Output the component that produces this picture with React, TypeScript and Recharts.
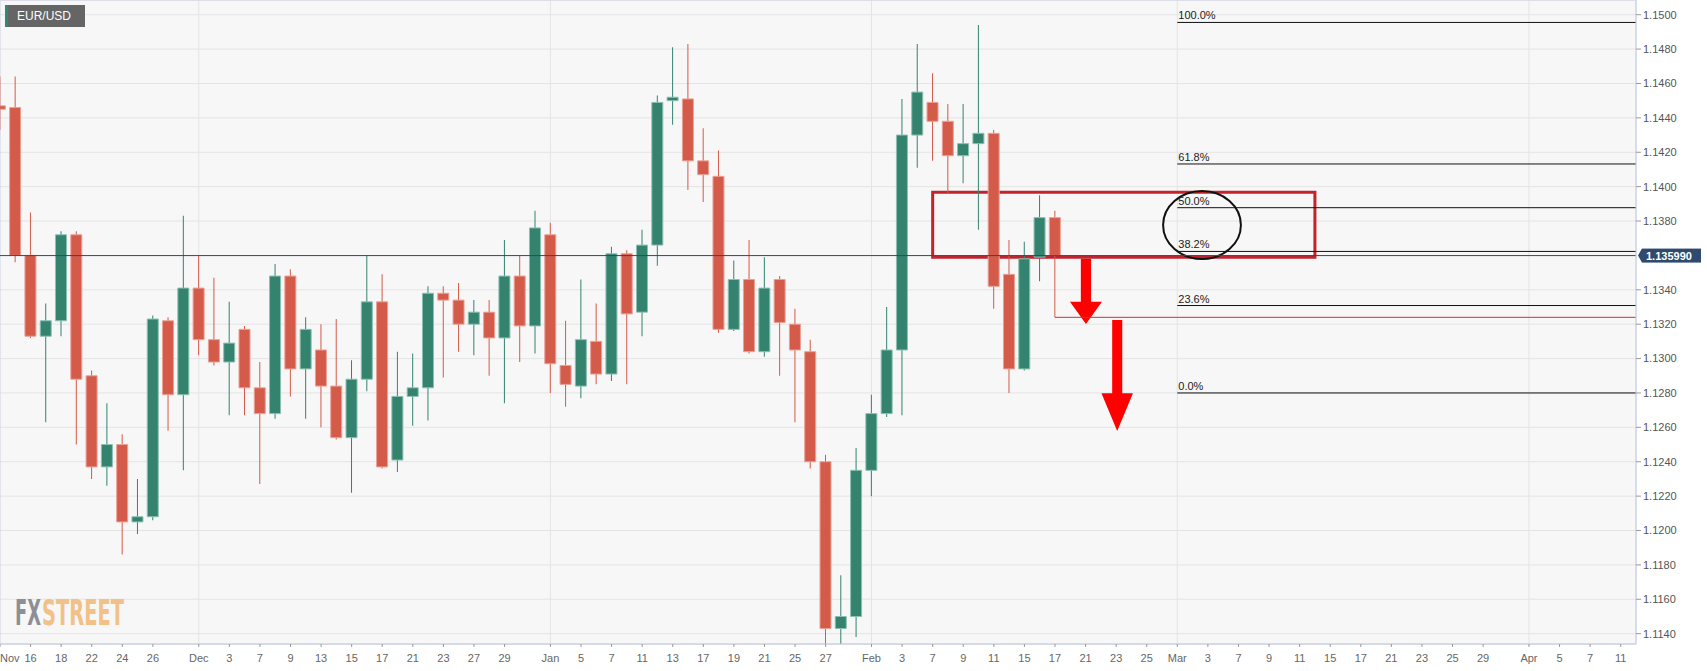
import React from 'react'
import {
  ComposedChart,
  Bar,
  Cell,
  XAxis,
  YAxis,
  CartesianGrid,
  ReferenceLine,
  ReferenceArea,
} from 'recharts'

// daily candles, Nov 12 2021 .. Feb 17 2022 (weekdays)
const DAYS = [
  'Nov 12', 'Nov 15', 'Nov 16', 'Nov 17', 'Nov 18', 'Nov 19',
  'Nov 22', 'Nov 23', 'Nov 24', 'Nov 25', 'Nov 26',
  'Nov 29', 'Nov 30', 'Dec 1', 'Dec 2', 'Dec 3',
  'Dec 6', 'Dec 7', 'Dec 8', 'Dec 9', 'Dec 10',
  'Dec 13', 'Dec 14', 'Dec 15', 'Dec 16', 'Dec 17',
  'Dec 20', 'Dec 21', 'Dec 22', 'Dec 23', 'Dec 24',
  'Dec 27', 'Dec 28', 'Dec 29', 'Dec 30', 'Dec 31',
  'Jan 3', 'Jan 4', 'Jan 5', 'Jan 6', 'Jan 7',
  'Jan 10', 'Jan 11', 'Jan 12', 'Jan 13', 'Jan 14',
  'Jan 17', 'Jan 18', 'Jan 19', 'Jan 20', 'Jan 21',
  'Jan 24', 'Jan 25', 'Jan 26', 'Jan 27', 'Jan 28',
  'Jan 31', 'Feb 1', 'Feb 2', 'Feb 3', 'Feb 4',
  'Feb 7', 'Feb 8', 'Feb 9', 'Feb 10', 'Feb 11',
  'Feb 14', 'Feb 15', 'Feb 16', 'Feb 17',
]

const OPEN = [
  1.1447, 1.1446, 1.1360, 1.1313, 1.1322, 1.1372,
  1.1290, 1.1237, 1.1250, 1.1205, 1.1208,
  1.1322, 1.1279, 1.1341, 1.1311, 1.1298,
  1.1317, 1.1283, 1.1268, 1.1348, 1.1294,
  1.1305, 1.1284, 1.1254, 1.1288, 1.1333,
  1.1241, 1.1278, 1.1283, 1.1338, 1.1334,
  1.1320, 1.1327, 1.1312, 1.1348, 1.1319,
  1.1372, 1.1296, 1.1284, 1.1310, 1.1291,
  1.1361, 1.1327, 1.1366, 1.1450, 1.1451,
  1.1415, 1.1406, 1.1317, 1.1346, 1.1304,
  1.1346, 1.1320, 1.1304, 1.1240, 1.1143,
  1.1150, 1.1235, 1.1268, 1.1305, 1.1430,
  1.1449, 1.1438, 1.1418, 1.1425, 1.1431,
  1.1349, 1.1294, 1.1359, 1.1382,
]
const HIGH = [
  1.1464, 1.1464, 1.1385, 1.1332, 1.1374, 1.1374,
  1.1293, 1.1274, 1.1256, 1.1230, 1.1325,
  1.1324, 1.1383, 1.1360, 1.1347, 1.1333,
  1.1319, 1.1298, 1.1355, 1.1352, 1.1324,
  1.1320, 1.1323, 1.1299, 1.1360, 1.1349,
  1.1304, 1.1303, 1.1342, 1.1342, 1.1344,
  1.1334, 1.1334, 1.1369, 1.1360, 1.1386,
  1.1379, 1.1322, 1.1346, 1.1332, 1.1365,
  1.1363, 1.1375, 1.1453, 1.1481, 1.1483,
  1.1434, 1.1421, 1.1357, 1.1369, 1.1359,
  1.1348, 1.1329, 1.1311, 1.1244, 1.1174,
  1.1248, 1.1279, 1.1330, 1.1451, 1.1483,
  1.1466, 1.1448, 1.1448, 1.1494, 1.1433,
  1.1369, 1.1368, 1.1395, 1.1386,
]
const LOW = [
  1.1433, 1.1356, 1.1312, 1.1263, 1.1313, 1.1250,
  1.1230, 1.1226, 1.1186, 1.1198, 1.1206,
  1.1258, 1.1235, 1.1302, 1.1296, 1.1267,
  1.1267, 1.1227, 1.1265, 1.1278, 1.1265,
  1.1260, 1.1253, 1.1222, 1.1281, 1.1236,
  1.1234, 1.1261, 1.1264, 1.1289, 1.1304,
  1.1302, 1.1290, 1.1274, 1.1298, 1.1303,
  1.1280, 1.1272, 1.1277, 1.1285, 1.1287,
  1.1285, 1.1313, 1.1354, 1.1436, 1.1398,
  1.1391, 1.1315, 1.1316, 1.1303, 1.1301,
  1.1290, 1.1263, 1.1236, 1.1121, 1.1125,
  1.1138, 1.1220, 1.1266, 1.1267, 1.1411,
  1.1415, 1.1396, 1.1402, 1.1375, 1.1329,
  1.1280, 1.1293, 1.1345, 1.1324,
]
const CLOSE = [
  1.1445, 1.1360, 1.1313, 1.1322, 1.1372, 1.1288,
  1.1237, 1.1250, 1.1205, 1.1208, 1.1323,
  1.1279, 1.1341, 1.1311, 1.1298, 1.1309,
  1.1283, 1.1268, 1.1348, 1.1294, 1.1317,
  1.1284, 1.1254, 1.1288, 1.1333, 1.1237,
  1.1278, 1.1283, 1.1338, 1.1334, 1.1320,
  1.1327, 1.1312, 1.1348, 1.1319, 1.1376,
  1.1297, 1.1285, 1.1311, 1.1291, 1.1361,
  1.1326, 1.1366, 1.1449, 1.1452, 1.1415,
  1.1407, 1.1317, 1.1346, 1.1304, 1.1341,
  1.1321, 1.1305, 1.1240, 1.1143, 1.1150,
  1.1235, 1.1268, 1.1305, 1.1430, 1.1455,
  1.1438, 1.1418, 1.1425, 1.1431, 1.1342,
  1.1294, 1.1358, 1.1382, 1.1360,
]

// x axis runs on trading-day index, out to Apr 12
const X_DOMAIN = [0, 107]
const TICK_POS = [
  0, 2, 4, 6, 8, 10, 13, 15, 17, 19, 21, 23, 25, 27, 29, 31, 33,
  36, 38, 40, 42, 44, 46, 48, 50, 52, 54, 57, 59, 61, 63, 65, 67, 69, 71, 73, 75,
  77, 79, 81, 83, 85, 87, 89, 91, 93, 95, 97, 100, 102, 104, 106,
]
const TICK_LABELS = [
  'Nov', '16', '18', '22', '24', '26', 'Dec', '3', '7', '9', '13', '15', '17', '21', '23', '27', '29',
  'Jan', '5', '7', '11', '13', '17', '19', '21', '25', '27', 'Feb', '3', '7', '9', '11', '15', '17', '21', '23', '25',
  'Mar', '3', '7', '9', '11', '15', '17', '21', '23', '25', '29', 'Apr', '5', '7', '11',
]
const MONTH_POS = [13, 36, 57, 77, 100]

const Y_DOMAIN = [1.1134, 1.150855]
const Y_TICKS = [
  1.114, 1.116, 1.118, 1.12, 1.122, 1.124, 1.126, 1.128, 1.13, 1.132, 1.134,
  1.138, 1.14, 1.142, 1.144, 1.146, 1.148, 1.15,
]

const LAST_PRICE = 1.13599

// fibonacci retracement of the Feb 10 high / Feb 14 low
const FIB_HIGH = 1.14955
const FIB_LOW = 1.128
const FIB_LEVELS = [1, 0.618, 0.5, 0.382, 0.236, 0]
const FIB_LABELS = ['100.0%', '61.8%', '50.0%', '38.2%', '23.6%', '0.0%']
const FIB_FROM = 77

const SUPPORT = 1.1324
const SUPPORT_FROM = 69

// annotations (x in trading days, y in price)
const BOX = { x1: 61, x2: 86, y1: 1.1359, y2: 1.13968 }
const RING = { x1: 76.07, x2: 81.16, y1: 1.13579, y2: 1.13975 }
const ARROWS = [
  { x1: 69.98, x2: 72.07, y1: 1.13201, y2: 1.13581 },
  { x1: 72.04, x2: 74.1, y1: 1.12579, y2: 1.13224 },
]

const GREEN = '#33836f'
const RED = '#d45a49'
const GREEN_EDGE = '#8cbfb2'
const RED_EDGE = '#eba096'
const FRAME = '#ccd2e6'

const data = DAYS.map((day, i) => ({
  i,
  day,
  wick: [LOW[i], HIGH[i]],
  body: [Math.min(OPEN[i], CLOSE[i]), Math.max(OPEN[i], CLOSE[i])],
  up: CLOSE[i] >= OPEN[i],
}))

// month separators, placed with the axis scale when it is handed over
const monthLines = (props: any) => {
  const { xAxis, offset } = props
  if (xAxis && typeof xAxis.scale === 'function') return MONTH_POS.map(p => xAxis.scale(p))
  if (xAxis && xAxis.scale && typeof xAxis.scale.map === 'function') return MONTH_POS.map(p => xAxis.scale.map(p))
  const span = X_DOMAIN[1] - X_DOMAIN[0]
  return MONTH_POS.map(p => offset.left + ((p - X_DOMAIN[0]) / span) * offset.width)
}

const XTick = (props: any) => {
  const { x, y, payload } = props
  const k = TICK_POS.indexOf(payload.value)
  // the first label sits against the left edge
  const first = k === 0
  return (
    <text
      x={first ? Math.max(x - 1, 0) : x}
      y={y}
      dy="0.71em"
      textAnchor={first ? 'start' : 'middle'}
      fill="#666"
      fontSize={11}
    >
      {TICK_LABELS[k]}
    </text>
  )
}

const PriceTag = (props: any) => {
  const vb = props.viewBox
  const x = vb.x + vb.width
  const y = vb.y
  return (
    <g>
      <polygon points={`${x + 2},${y} ${x + 6},${y - 7} ${x + 6},${y + 7}`} fill="#2e4a6d" />
      <rect x={x + 6} y={y - 7} width={59} height={14} fill="#2e4a6d" />
      <text x={x + 10} y={y} dy="0.36em" fill="#fff" fontSize={11} fontWeight={700}>
        {LAST_PRICE.toFixed(6)}
      </text>
    </g>
  )
}

const fibLabel = (text: string) => (props: any) => {
  const vb = props.viewBox
  return (
    <text x={vb.x + 1} y={vb.y - 3} fill="#222" fontSize={11}>
      {text}
    </text>
  )
}

const Ring = (p: any) => (
  <ellipse
    cx={p.x + p.width / 2}
    cy={p.y + p.height / 2}
    rx={p.width / 2}
    ry={p.height / 2}
    fill="none"
    stroke="#111"
    strokeWidth={2}
  />
)

const DownArrow = (p: any) => {
  const { x, y, width: w, height: h } = p
  const cx = x + w / 2
  const sw = w * 0.32
  const hb = y + h * 0.66
  const pts = [
    [cx - sw / 2, y], [cx + sw / 2, y], [cx + sw / 2, hb], [x + w, hb],
    [cx, y + h], [x, hb], [cx - sw / 2, hb],
  ]
  return <polygon points={pts.map(q => q.join(',')).join(' ')} fill="#ff0000" />
}

export default function App() {
  return (
    <div
      style={{
        position: 'absolute',
        left: 0,
        top: 0,
        width: 1707,
        height: 671,
        background: '#fff',
        fontFamily: '"Liberation Sans", Arial, sans-serif',
      }}
    >
      <ComposedChart width={1707} height={671} data={data} margin={{ top: 0, right: 0, bottom: 0, left: 0 }}>
        <CartesianGrid
          stroke="#e4e4e4"
          fill="#f7f7f7"
          fillOpacity={1}
          verticalCoordinatesGenerator={monthLines}
        />
        <XAxis
          dataKey="i"
          type="number"
          domain={X_DOMAIN}
          ticks={TICK_POS}
          interval={0}
          height={27}
          tickSize={3}
          tickMargin={7}
          tick={<XTick />}
          axisLine={{ stroke: FRAME }}
          tickLine={{ stroke: '#999' }}
        />
        <XAxis xAxisId="w" dataKey="i" type="number" domain={X_DOMAIN} hide />
        <YAxis
          orientation="right"
          width={71}
          domain={Y_DOMAIN}
          allowDataOverflow
          ticks={Y_TICKS}
          interval={0}
          tickSize={5}
          tickMargin={2}
          tickFormatter={(v: number) => v.toFixed(4)}
          tick={{ fill: '#555', fontSize: 11 }}
          axisLine={{ stroke: FRAME }}
          tickLine={{ stroke: '#999' }}
        />

        <Bar xAxisId="w" dataKey="wick" barSize={1} isAnimationActive={false}>
          {data.map(d => (
            <Cell key={d.i} fill={d.up ? GREEN : RED} />
          ))}
        </Bar>
        <Bar dataKey="body" barSize={11} isAnimationActive={false}>
          {data.map(d => (
            <Cell key={d.i} fill={d.up ? GREEN : RED} stroke={d.up ? GREEN_EDGE : RED_EDGE} strokeWidth={1} />
          ))}
        </Bar>

        {FIB_LEVELS.map((lv, k) => {
          const y = FIB_LOW + lv * (FIB_HIGH - FIB_LOW)
          return (
            <ReferenceLine
              key={FIB_LABELS[k]}
              segment={[{ x: FIB_FROM, y }, { x: X_DOMAIN[1], y }]}
              stroke="#111"
              strokeWidth={1}
              label={fibLabel(FIB_LABELS[k])}
            />
          )
        })}

        <ReferenceLine
          segment={[{ x: SUPPORT_FROM, y: SUPPORT }, { x: X_DOMAIN[1], y: SUPPORT }]}
          stroke="#d0312d"
          strokeWidth={1}
        />

        <ReferenceArea x1={BOX.x1} x2={BOX.x2} y1={BOX.y1} y2={BOX.y2} fill="none" stroke="#c4232b" strokeWidth={3} />
        <ReferenceArea x1={RING.x1} x2={RING.x2} y1={RING.y1} y2={RING.y2} shape={Ring} />
        {ARROWS.map((a, k) => (
          <ReferenceArea key={k} x1={a.x1} x2={a.x2} y1={a.y1} y2={a.y2} shape={DownArrow} />
        ))}

        <ReferenceLine y={LAST_PRICE} stroke="#2c4770" strokeWidth={1} label={PriceTag} />

        <ReferenceArea
          x1={X_DOMAIN[0]}
          x2={X_DOMAIN[1]}
          y1={Y_DOMAIN[0]}
          y2={Y_DOMAIN[1]}
          fill="none"
          stroke={FRAME}
          strokeWidth={1}
        />
      </ComposedChart>

      <div
        style={{
          position: 'absolute',
          left: 5,
          top: 5,
          width: 80,
          height: 22,
          boxSizing: 'border-box',
          background: '#656565',
          borderLeft: '3px solid #2f8a74',
          color: '#fff',
          fontSize: 12,
          lineHeight: '22px',
          paddingLeft: 9,
        }}
      >
        EUR/USD
      </div>

      {/* watermark */}
      <svg style={{ position: 'absolute', left: 10, top: 588 }} width={124} height={44}>
        <text
          x={5}
          y={37}
          fontSize={35}
          fontWeight={700}
          fontFamily='"DejaVu Sans Condensed", "DejaVu Sans", sans-serif'
          fill="#8d8f96"
          textLength={26}
          lengthAdjust="spacingAndGlyphs"
        >
          FX
        </text>
        <text
          x={32}
          y={37}
          fontSize={35}
          fontWeight={700}
          fontFamily='"DejaVu Sans Condensed", "DejaVu Sans", sans-serif'
          fill="#f2c187"
          textLength={82}
          lengthAdjust="spacingAndGlyphs"
        >
          STREET
        </text>
      </svg>
    </div>
  )
}
